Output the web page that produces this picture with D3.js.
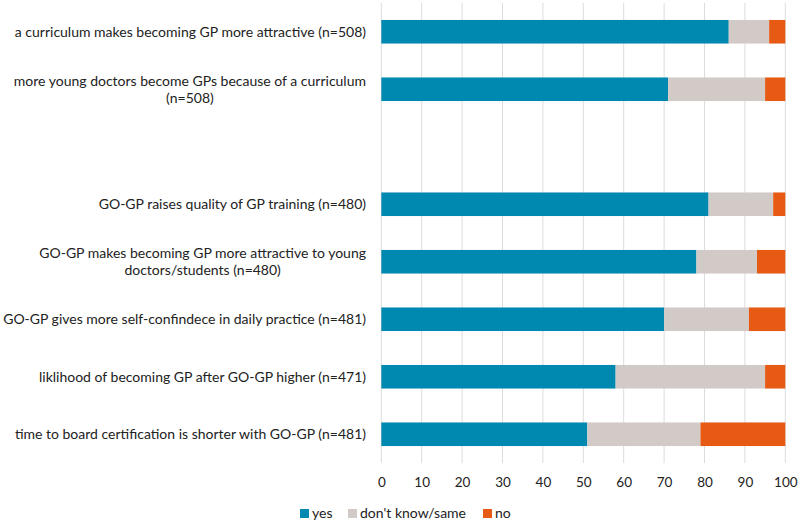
<!DOCTYPE html>
<html>
<head>
<meta charset="utf-8">
<script src="https://cdn.jsdelivr.net/npm/d3@7"></script>
<style>
  html, body { margin: 0; padding: 0; background: #fff; }
  svg { display: block; }
  text { font-family: Lato, "Open Sans", sans-serif; fill: #222; }
</style>
</head>
<body>
<svg id="chart" width="800" height="524"></svg>
<script>
// ---- data ----
const categories = [
  "a curriculum makes becoming GP more attractive (n=508)",
  "more young doctors become GPs because of a curriculum\n(n=508)",
  "",
  "GO-GP raises quality of GP training (n=480)",
  "GO-GP makes becoming GP more attractive to young\ndoctors/students (n=480)",
  "GO-GP gives more self-confindece in daily practice (n=481)",
  "liklihood of becoming GP after GO-GP higher (n=471)",
  "time to board certification is shorter with GO-GP (n=481)"
];
const yesValues      = [86, 71, null, 81, 78, 70, 58, 51];
const dontKnowValues = [10, 24, null, 16, 15, 21, 37, 28];
const noValues       = [4, 5, null, 3, 7, 9, 5, 21];
const seriesNames = ["yes", "don't know/same", "no"];
const seriesColors = ["#0089B0", "#D2CAC7", "#E65A14"];
const xTicks = [0, 10, 20, 30, 40, 50, 60, 70, 80, 90, 100];

// ---- layout ----
const svg = d3.select("#chart");
const x = d3.scaleLinear().domain([0, 100]).range([381.3, 785.3]);
const y = d3.scaleBand().domain(d3.range(categories.length)).range([3, 463]).paddingInner(0.59).paddingOuter(0.295);

// gridlines
svg.append("g").selectAll("line").data(xTicks).join("line")
  .attr("x1", d => x(d)).attr("x2", d => x(d))
  .attr("y1", 3).attr("y2", 463)
  .attr("stroke", "#dcdcdc").attr("stroke-width", 1);

// stacked bars
const rows = categories.map((c, i) => ({ i, vals: [yesValues[i], dontKnowValues[i], noValues[i]] }))
  .filter(r => r.vals[0] !== null);
const stack = d3.stack().keys([0, 1, 2]).value((r, k) => r.vals[k]);
const stacked = stack(rows);
svg.append("g").selectAll("g").data(stacked).join("g")
  .attr("fill", (d, k) => seriesColors[k])
  .selectAll("rect").data(d => d).join("rect")
  .attr("x", d => x(d[0]))
  .attr("width", d => x(d[1]) - x(d[0]))
  .attr("y", d => y(d.data.i))
  .attr("height", y.bandwidth());

// category labels
const labelRight = 366;
const lineH = 17;
const lg = svg.append("g");
categories.forEach((c, i) => {
  if (!c) return;
  const lines = c.split("\n");
  const cy = y(i) + y.bandwidth() / 2;
  const g = lg.append("g");
  const texts = lines.map((ln, j) => g.append("text")
    .attr("y", cy + (j - (lines.length - 1) / 2) * lineH)
    .attr("dy", "0.35em")
    .attr("font-size", 14)
    .attr("text-anchor", "middle")
    .text(ln));
  const w = d3.max(texts, t => t.node().getComputedTextLength());
  texts.forEach(t => t.attr("x", labelRight - w / 2));
});

// x axis tick labels
const axis = d3.axisBottom(x).tickValues(xTicks).tickSize(0).tickPadding(0);
const ag = svg.append("g").attr("transform", "translate(0,477)").call(axis);
ag.select(".domain").remove();
ag.selectAll("text").attr("font-size", 13.5).attr("font-family", "Lato, 'Open Sans', sans-serif").attr("fill", "#222").attr("dy", "0.71em").attr("y", 0);

// legend
const legendX = [300, 348, 483];
const leg = svg.append("g");
seriesNames.forEach((n, k) => {
  leg.append("rect").attr("x", legendX[k]).attr("y", 509).attr("width", 9).attr("height", 9).attr("fill", seriesColors[k]);
  leg.append("text").attr("x", legendX[k] + 12).attr("y", 513.5).attr("dy", "0.35em")
    .attr("font-size", 14).text(n);
});
</script>
</body>
</html>
